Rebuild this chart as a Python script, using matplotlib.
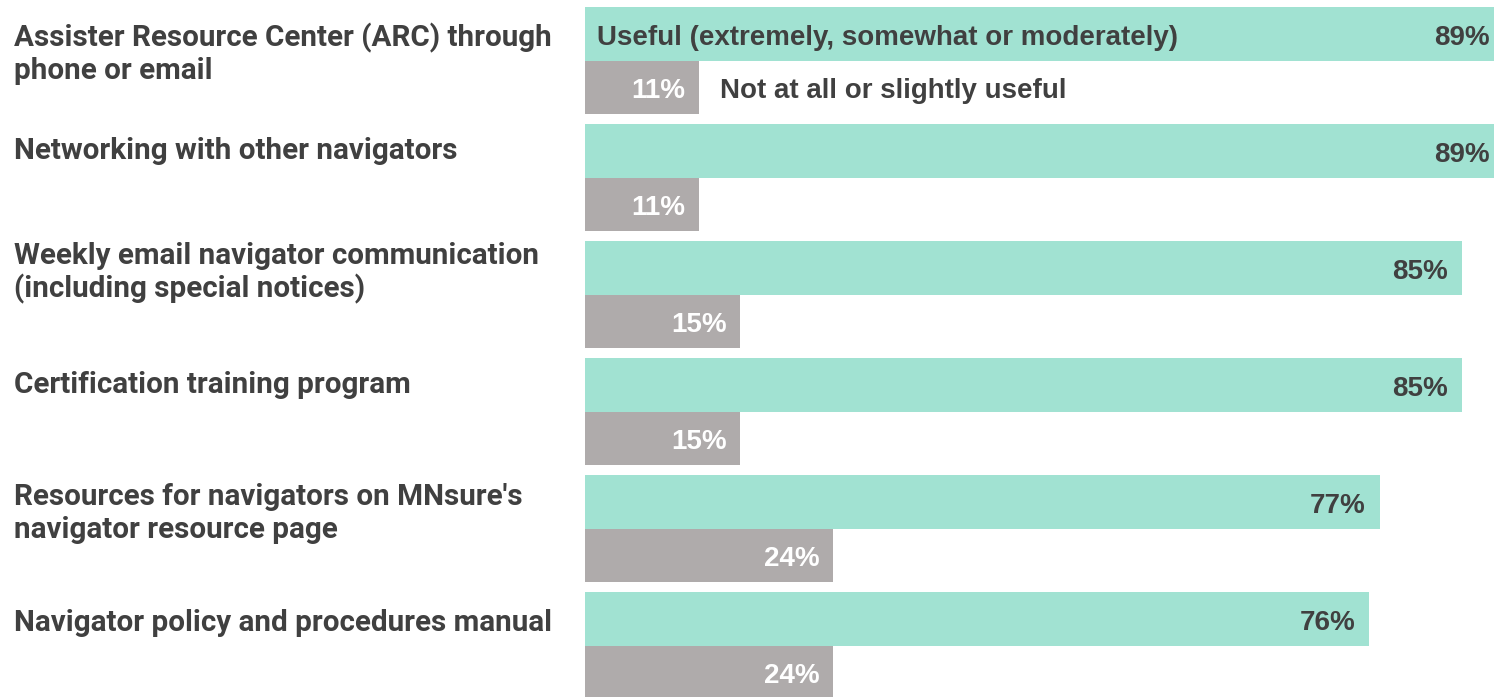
import matplotlib
matplotlib.use("Agg")
import matplotlib.pyplot as plt
from matplotlib import font_manager
from matplotlib.transforms import offset_copy

categories = [
    "Assister Resource Center (ARC) through\nphone or email",
    "Networking with other navigators",
    "Weekly email navigator communication\n(including special notices)",
    "Certification training program",
    "Resources for navigators on MNsure's\nnavigator resource page",
    "Navigator policy and procedures manual",
]
useful = [89, 89, 85, 85, 77, 76]
not_useful = [11, 11, 15, 15, 24, 24]
series_labels = ["Useful (extremely, somewhat or moderately)", "Not at all or slightly useful"]

TEAL = "#A1E2D2"
GRAY = "#AFABAB"
DARK = "#404040"

installed = {f.name for f in font_manager.fontManager.ttflist}
label_font = "Roboto" if "Roboto" in installed else "Liberation Sans"
main_font = "Liberation Sans"

W, H = 1494, 697
fig = plt.figure(figsize=(W / 100, H / 100), dpi=100)
fig.patch.set_facecolor("white")

left_px = 585
top_px = 7
ax = fig.add_axes([left_px / W, 0, (W - left_px) / W, (H - top_px) / H])

pitch = 117.0
bar_h = 54.0 / pitch
n = len(categories)
ax.set_xlim(0, (W - left_px) / 10.32)
ax.set_ylim((H - top_px) / pitch, 0)
ax.axis("off")

teal_y = [i + bar_h / 2 for i in range(n)]
gray_y = [i + bar_h * 1.5 - 0.005 for i in range(n)]
ax.barh(teal_y, useful, height=bar_h, color=TEAL, edgecolor="none")
ax.barh(gray_y, not_useful, height=bar_h - 0.01, color=GRAY, edgecolor="none")

text_kw = dict(fontsize=20, fontweight="bold", family=main_font)
for y, v in zip(teal_y, useful):
    tr = offset_copy(ax.transData, fig=fig, x=-14, y=-4, units="dots")
    ax.text(v, y, f"{v}%", transform=tr, ha="right", va="center",
            color=DARK, clip_on=False, **text_kw)
for y, v in zip(gray_y, not_useful):
    tr = offset_copy(ax.transData, fig=fig, x=-13, y=-4, units="dots")
    ax.text(v, y, f"{v}%", transform=tr, ha="right", va="center",
            color="white", **text_kw)

# series labels placed inside / beside the first pair of bars
tr = offset_copy(ax.transData, fig=fig, x=12, y=-4, units="dots")
ax.text(0, teal_y[0], series_labels[0], transform=tr, ha="left", va="center",
        color=DARK, **text_kw)
tr = offset_copy(ax.transData, fig=fig, x=21, y=-4, units="dots")
ax.text(not_useful[0], gray_y[0], series_labels[1], transform=tr, ha="left", va="center",
        color=DARK, **text_kw)

# category labels on the left (baseline of first line, pixels from top)
first_baseline_px = [46, 159, 264, 393, 505, 631]
line_gap_px = 33
for cat, base in zip(categories, first_baseline_px):
    for k, line in enumerate(cat.split("\n")):
        y_px = H - (base + k * line_gap_px)
        fig.text(14 / W, y_px / H, line, ha="left", va="baseline", fontsize=21.3,
                 fontweight="bold", color=DARK, family=label_font)

fig.savefig("out.png", dpi=100, facecolor="white")
